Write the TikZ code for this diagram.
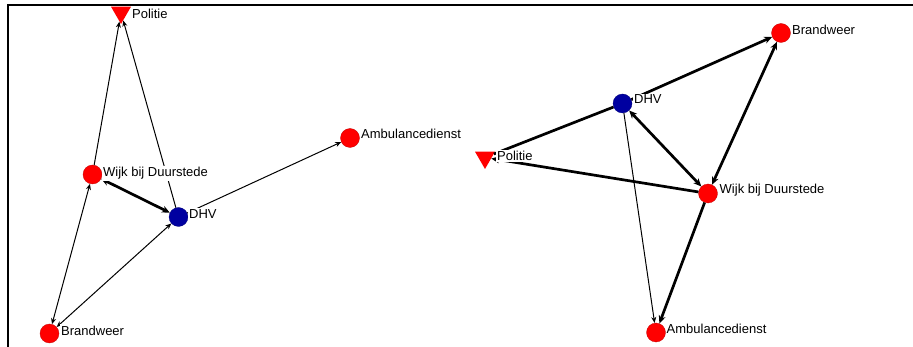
\documentclass[tikz,border=0pt]{standalone}
\usepackage{fontspec}
\setmainfont{Liberation Sans}
\usetikzlibrary{arrows.meta,shapes.geometric}
\definecolor{actorred}{RGB}{255,0,0}
\definecolor{actorblue}{RGB}{0,0,160}
\begin{document}
\begin{tikzpicture}[x=1pt,y=-1pt,
  actor/.style={circle,fill=actorred,draw=red!75!black,line width=0.3pt,minimum size=19pt,inner sep=0pt},
  firm/.style={actor,fill=actorblue,draw=actorblue!75!black},
  police/.style={regular polygon,regular polygon sides=3,shape border rotate=180,fill=actorred,minimum size=23pt,inner sep=0pt},
  actorname/.style={anchor=base west,fill=white,inner xsep=1pt,inner ysep=1.5pt,font=\fontsize{13pt}{13pt}\selectfont},
  tie/.style={line width=1pt,>={Stealth[length=6pt,width=5pt]}},
  strong/.style={line width=2.7pt,>={Stealth[length=8pt,width=7pt]}}]
\useasboundingbox (0,0) rectangle (913,347);
% frame
\draw[line width=2pt] (8,347) -- (8,5) -- (913,5);

% left network
\node[police] (LP) at (121,12.5) {};
\node[actor]  (LW) at (92.5,174.5) {};
\node[firm]   (LD) at (178.5,217) {};
\node[actor]  (LA) at (350,138) {};
\node[actor]  (LB) at (49.5,333.5) {};

% right network
\node[actor]  (RB) at (781,33) {};
\node[firm]   (RD) at (622.5,103.5) {};
\node[police] (RP) at (485,157.5) {};
\node[actor]  (RW) at (708,193.5) {};
\node[actor]  (RA) at (656,332.5) {};

% left ties
\draw[tie,->] (LW) -- (LP);
\draw[tie,->] (LD) -- (LP);
\draw[strong,<->] (LW) -- (LD);
\draw[tie,->] (LD) -- (LA);
\draw[tie,<->] (LB) -- (LW);
\draw[tie,<->] (LB) -- (LD);

% right ties
\draw[strong,->] (RD) -- (RB);
\draw[strong,<->] (RW) -- (RB);
\draw[strong,<->] (RD) -- (RW);
\draw[strong,->] (RW) -- (RP);
\draw[strong] (RD) -- (RP);
\draw[tie,->] (RD) -- (RA);
\draw[strong,->] (RW) -- (RA);

% labels
\node[actorname] (tLP) at (131,19) {Politie};
\node[actorname] (tLW) at (102,176.5) {Wijk bij Duurstede};
\node[actorname] (tLD) at (188,218.3) {DHV};
\node[actorname] (tLA) at (360,138.3) {Ambulancedienst};
\node[actorname] (tLB) at (60,335) {Brandweer};
\node[actorname] (tRB) at (791,34.5) {Brandweer};
\node[actorname] (tRD) at (633,104) {DHV};
\node[actorname] (tRP) at (496,160.7) {Politie};
\node[actorname] (tRW) at (718.5,193.3) {Wijk bij Duurstede};
\node[actorname] (tRA) at (665.5,333.3) {Ambulancedienst};
\end{tikzpicture}
\end{document}
